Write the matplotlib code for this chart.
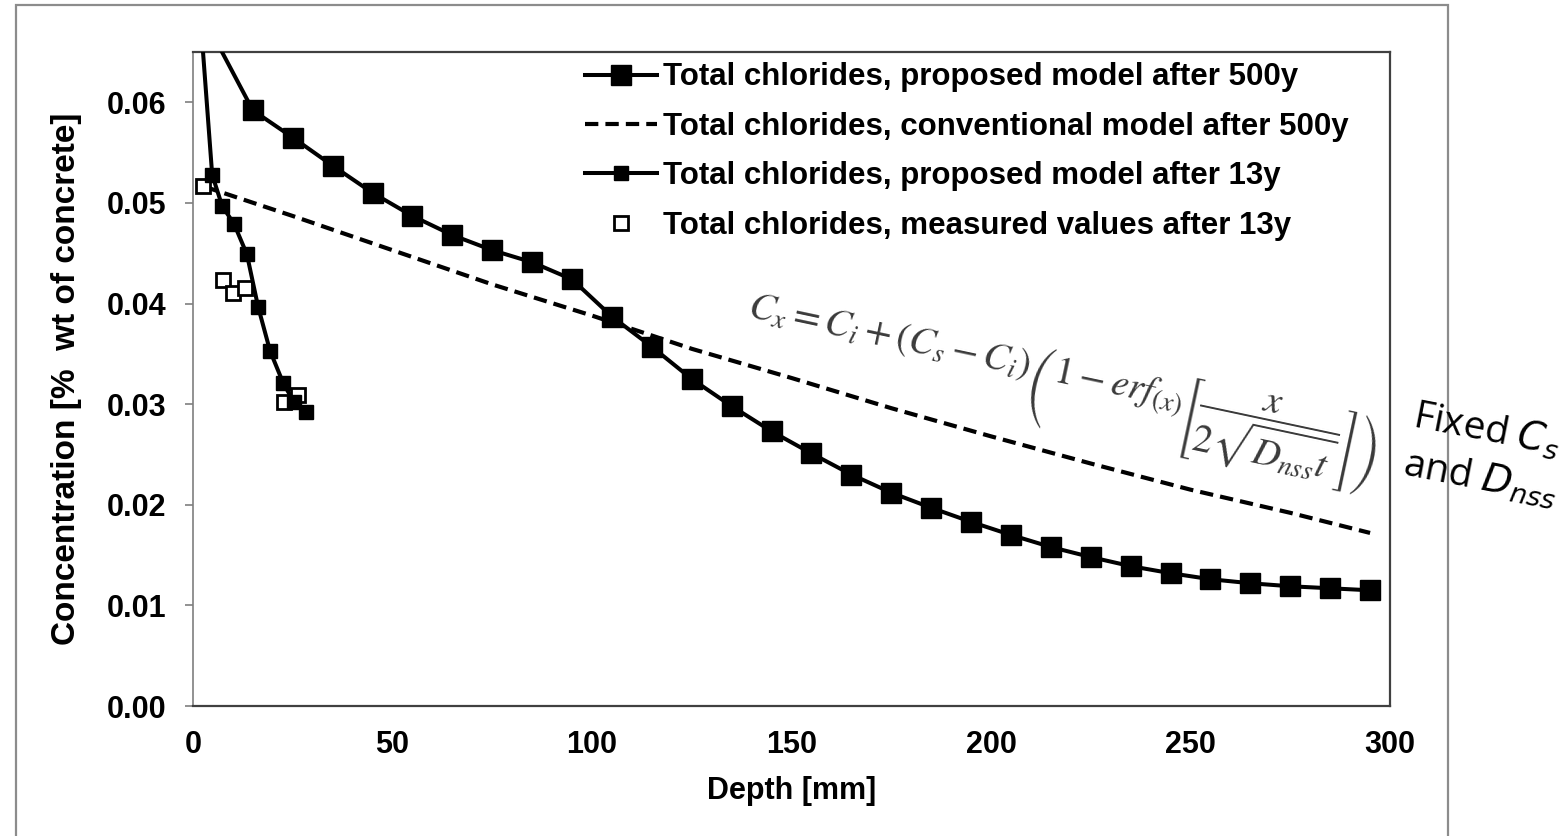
import matplotlib
matplotlib.use("Agg")
import matplotlib.pyplot as plt
from matplotlib.patches import Rectangle

plt.rcParams['font.family'] = ['Liberation Sans', 'DejaVu Sans']

# proposed model, 500 years (first point lies above the plotted range)
depth_500 = [5, 15, 25, 35, 45, 55, 65, 75, 85, 95, 105, 115, 125, 135, 145,
             155, 165, 175, 185, 195, 205, 215, 225, 235, 245, 255, 265, 275, 285, 295]
conc_500 = [0.0667, 0.0592, 0.0565, 0.0537, 0.0510, 0.0487, 0.0468, 0.0453, 0.0441, 0.0424,
            0.0387, 0.0357, 0.0325, 0.0298, 0.0273, 0.0251, 0.0230, 0.0212, 0.0197, 0.0183,
            0.0170, 0.0158, 0.0148, 0.0139, 0.0132, 0.0126, 0.0122, 0.0119, 0.0117, 0.0115]

# conventional model, 500 years
depth_conv = [3, 25, 50, 75, 100, 125, 150, 175, 200, 225, 250, 275, 295]
conc_conv = [0.0516, 0.0487, 0.0453, 0.0419, 0.0388, 0.0355, 0.0326, 0.0296,
             0.0268, 0.0241, 0.0215, 0.0192, 0.0172]

# proposed model, 13 years
depth_13 = [1, 4.8, 7.3, 10.3, 13.5, 16.3, 19.3, 22.6, 25.3, 28.3]
conc_13 = [0.073, 0.0528, 0.0497, 0.0479, 0.0449, 0.0397, 0.0353, 0.0321, 0.0302, 0.0292]

# measured, 13 years
depth_meas = [2.5, 7.5, 10, 13, 22.8, 26.3]
conc_meas = [0.0517, 0.0423, 0.0410, 0.0415, 0.0302, 0.0309]

labels = ["Total chlorides, proposed model after 500y",
          "Total chlorides, conventional model after 500y",
          "Total chlorides, proposed model after 13y",
          "Total chlorides, measured values after 13y"]

FS = 22

fig = plt.figure(figsize=(15.68, 8.36), dpi=100)
ax = fig.add_axes([0.1231, 0.1555, 0.7634, 0.7823])

# outer chart frame
fig.patches.append(Rectangle((0.0102, -0.05), 0.9133, 1.044, transform=fig.transFigure,
                             fill=False, edgecolor='#8c8c8c', linewidth=1.6))

l1, = ax.plot(depth_500, conc_500, color='black', lw=2.9, marker='s', ms=15,
              mfc='black', mec='black', zorder=4, label=labels[0])
l2, = ax.plot(depth_conv, conc_conv, color='black', lw=3.0, dashes=(3.2, 1.7),
              zorder=3, label=labels[1])
l4, = ax.plot(depth_meas, conc_meas, ls='none', marker='s', ms=9.5, mfc='white',
              mec='black', mew=2, zorder=3.5, label=labels[3])
l3, = ax.plot(depth_13, conc_13, color='black', lw=2.9, marker='s', ms=9.5,
              mfc='black', mec='black', zorder=5, label=labels[2])

ax.set_xlim(0, 300)
ax.set_ylim(0, 0.065)
ax.set_xticks([0, 50, 100, 150, 200, 250, 300])
ax.set_yticks([0, 0.01, 0.02, 0.03, 0.04, 0.05, 0.06])
ax.set_yticklabels([f"{v:.2f}" for v in ax.get_yticks()])
ax.tick_params(axis='x', length=0, pad=17, labelsize=FS)
ax.tick_params(axis='y', length=6, width=1.2, color='#7f7f7f', pad=13, labelsize=FS)
for lab in ax.get_xticklabels() + ax.get_yticklabels():
    lab.set_fontweight('bold')

for side in ['top', 'right', 'bottom']:
    ax.spines[side].set_color('#404040')
    ax.spines[side].set_linewidth(1.6)
ax.spines['left'].set_color('#7f7f7f')
ax.spines['left'].set_linewidth(1.2)

ax.set_xlabel("Depth [mm]", fontsize=FS, fontweight='bold', labelpad=12)
ax.set_ylabel("Concentration [%  wt of concrete]", fontsize=24, fontweight='bold',
              labelpad=18)

ax.legend(handles=[l1, l2, l3, l4], loc='upper left', bbox_to_anchor=(0.3275, 0.984),
          frameon=False, prop={'weight': 'bold', 'size': 22.5},
          handlelength=2.3, handletextpad=0.2, labelspacing=0.62,
          borderaxespad=0, borderpad=0)

eq = (r'$C_x = C_i + (C_s - C_i)\left(1 - erf_{(x)}'
      r'\left[\dfrac{x}{2\sqrt{D_{nss}t}}\right]\right)$')
ax.text(0.461, 0.585, eq, transform=ax.transAxes, fontsize=28, color='#3a3a3a',
        rotation=-12, rotation_mode='anchor', ha='left', va='center',
        math_fontfamily='stix')

fig.text(0.893, 0.457, "Fixed $C_s$\nand $D_{nss}$", fontsize=28, family='Open Sans',
         rotation=-11, ha='left', va='center', linespacing=1.35,
         math_fontfamily='dejavusans')

fig.savefig("out.png", dpi=100, facecolor='white')
